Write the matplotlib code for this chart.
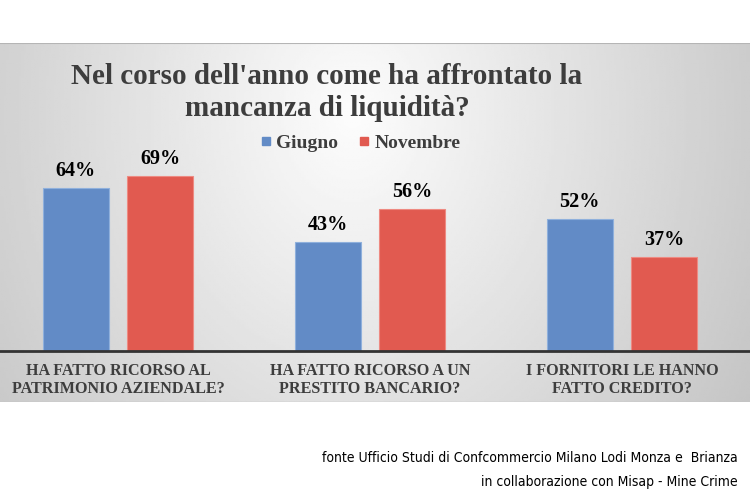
import matplotlib.pyplot as plt
import numpy as np
from matplotlib.lines import Line2D

categories = ["HA FATTO RICORSO AL\nPATRIMONIO AZIENDALE?",
              "HA FATTO RICORSO A UN\nPRESTITO BANCARIO?",
              "I FORNITORI LE HANNO\nFATTO CREDITO?"]
giugno = [64, 43, 52]
novembre = [69, 56, 37]
series_names = ["Giugno", "Novembre"]
title_lines = ["Nel corso dell'anno come ha affrontato la", "mancanza di liquidità?"]
footer_lines = ["fonte Ufficio Studi di Confcommercio Milano Lodi Monza e  Brianza",
                "in collaborazione con Misap - Mine Crime"]

blue = "#628bc6"
red = "#e15a50"
dark = "#3d3d3d"
serif = ["Liberation Serif", "DejaVu Serif"]

fig = plt.figure(figsize=(7.5, 5), dpi=100)
fig.patch.set_facecolor("white")

# gray radial gradient panel behind the chart
bg = fig.add_axes([0, 98 / 500, 1, 359 / 500])
yy, xx = np.mgrid[0:1:200j, 0:1:300j]
r = np.sqrt(((xx - 0.47) / 0.62) ** 2 + ((yy - 0.8) / 1.6) ** 2)
shade = np.clip(0.99 - 0.22 * r, 0.77, 1)
bg.imshow(shade, cmap="gray", vmin=0, vmax=1, aspect="auto",
          extent=[0, 1, 0, 1], origin="lower")
bg.set_xlim(0, 1)
bg.set_ylim(0, 1)
bg.axhline(1, color="#b5b5b5", lw=1.5)
bg.axhline(0, color="#c0c0c0", lw=1)
bg.axis("off")

ax = fig.add_axes([0, 149 / 500, 1, 254 / 500])
ax.patch.set_alpha(0)
x = np.arange(len(categories))
w = 0.262
off = 0.168
b1 = ax.bar(x - off, giugno, w, color=blue, edgecolor="#8fb0dc", lw=0.8)
b2 = ax.bar(x + off, novembre, w, color=red, edgecolor="#ee8a82", lw=0.8)
for bars, vals in [(b1, giugno), (b2, novembre)]:
    for b, v in zip(bars, vals):
        ax.annotate(f"{v}%", (b.get_x() + b.get_width() / 2, v),
                    xytext=(0, 5), textcoords="offset points",
                    ha="center", va="bottom", fontsize=14.5,
                    fontweight="bold", family=serif, color="black")

ax.set_xlim(-0.468, 2.508)
ax.set_ylim(0, 100)
for s in ["top", "left", "right"]:
    ax.spines[s].set_visible(False)
ax.spines["bottom"].set_color("#333333")
ax.spines["bottom"].set_linewidth(2)
ax.set_yticks([])
ax.set_xticks([])

for i, c in enumerate(categories):
    ax.text(i, -11.4, c, ha="center", va="center", fontsize=11.6,
            fontweight="bold", family=serif, color=dark, linespacing=1.12,
            clip_on=False)

# title
fig.text(0.436, 1 - 77 / 500, title_lines[0], ha="center", va="center",
         fontsize=21, fontweight="bold", family=serif, color=dark)
fig.text(0.436, 1 - 108 / 500, title_lines[1], ha="center", va="center",
         fontsize=21, fontweight="bold", family=serif, color=dark)

# legend
handles = [Line2D([], [], marker="s", ls="none", color=blue, markersize=6),
           Line2D([], [], marker="s", ls="none", color=red, markersize=6)]
leg = fig.legend(handles, series_names, loc="center", ncol=2,
                 bbox_to_anchor=(0.48, 1 - 143 / 500), frameon=False,
                 handlelength=0.6, handletextpad=0.25, columnspacing=1.0,
                 prop={"family": serif, "weight": "bold", "size": 14})
for t in leg.get_texts():
    t.set_color(dark)

# footer
foot_font = dict(fontsize=10, family=["DejaVu Sans"], fontstretch="condensed",
                 color="black")
fig.text(0.984, 1 - 458 / 500, footer_lines[0], ha="right", va="center",
         **foot_font)
fig.text(0.984, 1 - 482 / 500, footer_lines[1], ha="right", va="center",
         **foot_font)

fig.savefig("out.png", dpi=100, facecolor="white")
